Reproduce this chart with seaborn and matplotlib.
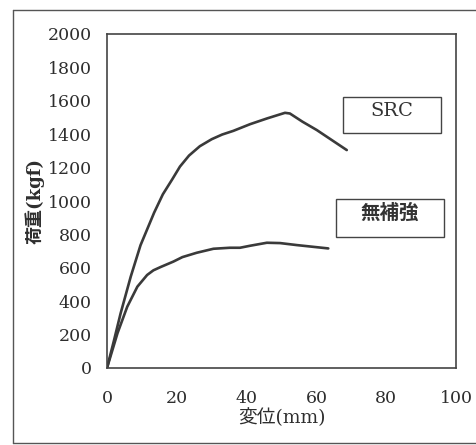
import matplotlib
matplotlib.use("Agg")
import matplotlib.pyplot as plt
import seaborn as sns
import pandas as pd
from matplotlib.patches import Rectangle
from matplotlib.lines import Line2D

# data
src_x = [0, 2.0, 3.9, 6.8, 9.6, 13.5, 16.0, 18.7, 20.9, 23.5, 26.6, 30.0, 33.0, 36.2,
         41.0, 45.8, 49.0, 51.0, 52.4, 56.0, 60.1, 68.7]
src_y = [0, 165, 327, 547, 735, 930, 1040, 1130, 1206, 1272, 1328, 1370, 1398, 1420,
         1460, 1494, 1515, 1528, 1524, 1475, 1425, 1305]
plain_x = [0, 3.0, 5.8, 8.7, 11.5, 13.3, 15.4, 19.0, 21.6, 25.7, 30.5, 35.2, 38.1,
           41.0, 45.8, 49.6, 54.4, 63.4]
plain_y = [0, 208, 367, 487, 557, 585, 605, 637, 664, 690, 714, 720, 720,
           732, 750, 748, 736, 716]
series_names = ["SRC", "無補強"]
x_ticks = [0, 20, 40, 60, 80, 100]
y_ticks = [0, 200, 400, 600, 800, 1000, 1200, 1400, 1600, 1800, 2000]

df = pd.concat([
    pd.DataFrame({"x": src_x, "y": src_y, "s": series_names[0]}),
    pd.DataFrame({"x": plain_x, "y": plain_y, "s": series_names[1]}),
])

sns.set_style("white")
plt.rcParams["font.family"] = ["DejaVu Serif", "Noto Sans CJK JP"]

fig = plt.figure(figsize=(4.77, 4.45), dpi=100)
ax = fig.add_axes([107/477, 1-368/445, (456-107)/477, (368-34)/445])

sns.lineplot(data=df, x="x", y="y", hue="s", palette=["#3a3a3a", "#3a3a3a"],
             sort=False, estimator=None, linewidth=1.9, legend=False, ax=ax)
for ln in ax.lines:
    ln.set_solid_joinstyle("round")
    ln.set_solid_capstyle("round")

ax.set_xlim(0, 100)
ax.set_ylim(0, 2000)
ax.set_xticks(x_ticks)
ax.set_yticks(y_ticks)
ax.tick_params(direction="in", length=5, width=1, color="#555555",
               labelsize=12.5, labelcolor="#2e2e2e")
ax.tick_params(axis="x", pad=16)
ax.tick_params(axis="y", pad=11)
for sp in ax.spines.values():
    sp.set_color("#444444")
    sp.set_linewidth(1.2)

ax.set_xlabel("変位(mm)", fontsize=13.5, color="#2e2e2e", labelpad=1,
              family=["DejaVu Serif", "Noto Sans CJK JP"])
ax.set_ylabel("荷重(kgf)", fontsize=13, color="#2e2e2e", labelpad=2,
              family=["DejaVu Serif", "Noto Sans CJK JP"], fontweight="bold")

# label boxes
boxes = [(67.6, 1407, 28.1, 216, series_names[0], 14, "normal"),
         (65.6, 784, 31.0, 228, series_names[1], 14, "bold")]
for bx, by, bw, bh, label, fs, fw in boxes:
    ax.add_patch(Rectangle((bx, by), bw, bh, fill=False, edgecolor="#444444", linewidth=1.0))
    ax.text(bx + bw/2, by + bh*0.62, label, ha="center", va="center",
            fontsize=fs, color="#333333", fontweight=fw,
            family=["DejaVu Serif", "Noto Sans CJK JP"])

# outer frame
fc = "#555555"
fig.add_artist(Line2D([13/477, 13/477], [1-10/445, 1-443/445], color=fc, lw=1.0, transform=fig.transFigure))
fig.add_artist(Line2D([13/477, 1], [1-10/445, 1-10/445], color=fc, lw=1.0, transform=fig.transFigure))
fig.add_artist(Line2D([13/477, 1], [1-443/445, 1-443/445], color=fc, lw=1.0, transform=fig.transFigure))

fig.savefig("out.png", dpi=100)
